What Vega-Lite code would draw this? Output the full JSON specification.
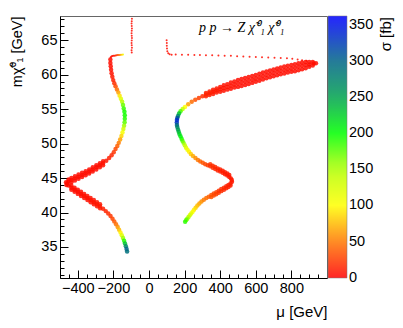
{
"$schema": "https://vega.github.io/schema/vega-lite/v6.json",
"width": 267, "height": 262,
"autosize": {"type": "none"},
"padding": {"left": 60, "top": 16, "right": 76, "bottom": 50},
"background": "white",
"config": {"font": "Liberation Sans", "view": {"stroke": "#666", "strokeWidth": 1},
 "axis": {"labelFont": "Liberation Sans", "titleFont": "Liberation Sans", "labelColor": "black", "titleColor": "black", "domainColor": "black", "tickColor": "black", "grid": false, "labelFontSize": 14.5, "titleFontSize": 15, "titleFontWeight": "normal"}},
"datasets": {
"band": [
{"x":938,"y":61.65,"s":5},{"x":925,"y":61.62,"s":5},{"x":920,"y":61.33,"s":5},{"x":920,"y":61.83,"s":5},
{"x":900,"y":61.13,"s":5},{"x":900,"y":61.48,"s":5},{"x":900,"y":61.83,"s":5},
{"x":880,"y":60.93,"s":5},{"x":880,"y":61.38,"s":5},{"x":880,"y":61.83,"s":5},
{"x":860,"y":60.77,"s":5},{"x":860,"y":61.27,"s":5},{"x":860,"y":61.77,"s":5},
{"x":840,"y":60.64,"s":5},{"x":840,"y":61.14,"s":5},{"x":840,"y":61.64,"s":5},
{"x":820,"y":60.5,"s":5},{"x":820,"y":61.0,"s":5},{"x":820,"y":61.5,"s":5},
{"x":800,"y":60.4,"s":5},{"x":800,"y":60.9,"s":5},{"x":800,"y":61.4,"s":5},
{"x":780,"y":60.29,"s":5},{"x":780,"y":60.79,"s":5},{"x":780,"y":61.29,"s":5},
{"x":760,"y":60.17,"s":5},{"x":760,"y":60.67,"s":5},{"x":760,"y":61.17,"s":5},
{"x":740,"y":60.04,"s":5},{"x":740,"y":60.54,"s":5},{"x":740,"y":61.04,"s":5},
{"x":720,"y":59.9,"s":5},{"x":720,"y":60.4,"s":5},{"x":720,"y":60.9,"s":5},
{"x":700,"y":59.75,"s":5},{"x":700,"y":60.25,"s":5},{"x":700,"y":60.75,"s":5},
{"x":680,"y":59.6,"s":5},{"x":680,"y":60.1,"s":5},{"x":680,"y":60.6,"s":5},
{"x":660,"y":59.46,"s":5},{"x":660,"y":59.96,"s":5},{"x":660,"y":60.46,"s":5},
{"x":640,"y":59.3,"s":5},{"x":640,"y":59.8,"s":5},{"x":640,"y":60.3,"s":5},
{"x":620,"y":59.12,"s":5},{"x":620,"y":59.62,"s":5},{"x":620,"y":60.12,"s":5},
{"x":600,"y":58.95,"s":5},{"x":600,"y":59.45,"s":5},{"x":600,"y":59.95,"s":5},
{"x":580,"y":58.8,"s":5},{"x":580,"y":59.3,"s":5},{"x":580,"y":59.8,"s":5},
{"x":560,"y":58.65,"s":5},{"x":560,"y":59.15,"s":5},{"x":560,"y":59.65,"s":5},
{"x":540,"y":58.5,"s":5},{"x":540,"y":59.0,"s":5},{"x":540,"y":59.5,"s":5},
{"x":520,"y":58.36,"s":5},{"x":520,"y":58.86,"s":5},{"x":520,"y":59.36,"s":5},
{"x":500,"y":58.22,"s":5},{"x":500,"y":58.72,"s":5},{"x":500,"y":59.22,"s":5},
{"x":480,"y":58.12,"s":6},{"x":480,"y":58.57,"s":6},{"x":480,"y":59.02,"s":6},
{"x":460,"y":57.95,"s":6},{"x":460,"y":58.4,"s":6},{"x":460,"y":58.85,"s":6},
{"x":440,"y":57.82,"s":7},{"x":440,"y":58.22,"s":7},{"x":440,"y":58.62,"s":7},
{"x":420,"y":57.65,"s":7},{"x":420,"y":58.05,"s":7},{"x":420,"y":58.45,"s":7},
{"x":400,"y":57.52,"s":8},{"x":400,"y":57.87,"s":8},{"x":400,"y":58.22,"s":8},
{"x":380,"y":57.4,"s":9},{"x":380,"y":57.7,"s":9},{"x":380,"y":58.0,"s":9},
{"x":360,"y":57.2,"s":10},{"x":360,"y":57.5,"s":10},{"x":360,"y":57.8,"s":10},
{"x":340,"y":57.05,"s":12},{"x":340,"y":57.3,"s":12},{"x":340,"y":57.55,"s":12},
{"x":320,"y":56.85,"s":14},{"x":320,"y":57.1,"s":14},{"x":320,"y":57.35,"s":14},
{"x":300,"y":56.85,"s":18},{"x":280,"y":56.6,"s":25},{"x":260,"y":56.35,"s":33},{"x":240,"y":56.05,"s":45},{"x":220,"y":55.7,"s":65},{"x":202,"y":55.3,"s":100},
{"x":189,"y":55.0,"s":140},{"x":177,"y":54.7,"s":180},{"x":169,"y":54.35,"s":230},{"x":163,"y":54.0,"s":270},{"x":159,"y":53.7,"s":310},{"x":157,"y":53.4,"s":335},{"x":156,"y":53.05,"s":330},{"x":157,"y":52.7,"s":300},{"x":159,"y":52.4,"s":275},{"x":163,"y":52.05,"s":255},{"x":167,"y":51.7,"s":240},{"x":171,"y":51.4,"s":225},{"x":177,"y":51.05,"s":210},{"x":183,"y":50.7,"s":195},{"x":188,"y":50.4,"s":180},{"x":194,"y":50.1,"s":165},{"x":201,"y":49.75,"s":145},{"x":208,"y":49.4,"s":125},{"x":216,"y":49.1,"s":110},{"x":225,"y":48.8,"s":95},{"x":235,"y":48.5,"s":82},{"x":247,"y":48.2,"s":70},{"x":261,"y":47.9,"s":58},{"x":275,"y":47.6,"s":50},
{"x":288,"y":47.4,"s":42},{"x":302,"y":47.2,"s":36},{"x":316,"y":47.0,"s":30},{"x":330,"y":46.85,"s":26},{"x":344,"y":46.7,"s":22},{"x":358,"y":46.5,"s":19},{"x":372,"y":46.3,"s":17},{"x":386,"y":46.1,"s":15},{"x":400,"y":45.95,"s":13},{"x":414,"y":45.75,"s":12},{"x":427,"y":45.55,"s":11},{"x":440,"y":45.35,"s":10},{"x":451,"y":45.15,"s":10},{"x":460,"y":44.95,"s":10},{"x":465,"y":44.7,"s":10},
{"x":344,"y":47.0,"s":22},{"x":358,"y":46.8,"s":19},{"x":372,"y":46.6,"s":17},{"x":386,"y":46.4,"s":15},{"x":400,"y":46.25,"s":13},{"x":414,"y":46.05,"s":12},{"x":427,"y":45.85,"s":11},{"x":440,"y":45.65,"s":10},{"x":451,"y":45.45,"s":10},
{"x":466,"y":44.45,"s":10},{"x":458,"y":44.2,"s":11},{"x":446,"y":44.0,"s":12},{"x":434,"y":43.8,"s":14},{"x":421,"y":43.6,"s":16},{"x":406,"y":43.4,"s":19},{"x":392,"y":43.15,"s":22},{"x":378,"y":42.95,"s":26},{"x":364,"y":42.75,"s":30},{"x":350,"y":42.55,"s":34},{"x":336,"y":42.3,"s":39},{"x":322,"y":42.1,"s":44},{"x":308,"y":41.85,"s":50},{"x":295,"y":41.6,"s":57},{"x":283,"y":41.3,"s":65},{"x":272,"y":41.0,"s":73},{"x":262,"y":40.7,"s":82},{"x":253,"y":40.4,"s":92},{"x":245,"y":40.1,"s":103},{"x":237,"y":39.85,"s":115},{"x":229,"y":39.6,"s":128},{"x":222,"y":39.35,"s":142},{"x":215,"y":39.1,"s":158},{"x":209,"y":38.9,"s":172},{"x":203,"y":38.65,"s":188},
{"x":458,"y":43.9,"s":11},{"x":446,"y":43.7,"s":12},{"x":434,"y":43.5,"s":14},{"x":421,"y":43.3,"s":16},{"x":406,"y":43.1,"s":19},{"x":392,"y":42.85,"s":22},{"x":378,"y":42.65,"s":26},{"x":364,"y":42.45,"s":30},{"x":350,"y":42.25,"s":34},
{"x":-217,"y":62.2,"s":5},{"x":-217,"y":61.7,"s":5},{"x":-215,"y":61.2,"s":5},{"x":-213,"y":60.7,"s":6},{"x":-210,"y":60.2,"s":7},{"x":-206,"y":59.7,"s":9},{"x":-201,"y":59.2,"s":12},{"x":-195,"y":58.75,"s":18},{"x":-188,"y":58.3,"s":30},{"x":-180,"y":57.85,"s":45},{"x":-172,"y":57.4,"s":65},{"x":-165,"y":56.95,"s":90},{"x":-158,"y":56.5,"s":120},{"x":-151,"y":56.05,"s":150},{"x":-146,"y":55.6,"s":170},{"x":-142,"y":55.1,"s":185},{"x":-138,"y":54.6,"s":195},{"x":-136,"y":54.1,"s":195},{"x":-136,"y":53.6,"s":190},{"x":-137,"y":53.1,"s":175},{"x":-140,"y":52.6,"s":155},{"x":-144,"y":52.1,"s":130},{"x":-149,"y":51.6,"s":105},{"x":-155,"y":51.1,"s":85},{"x":-162,"y":50.6,"s":65},{"x":-170,"y":50.1,"s":50},{"x":-178,"y":49.65,"s":40},{"x":-188,"y":49.2,"s":30},{"x":-198,"y":48.75,"s":22},{"x":-210,"y":48.3,"s":16},{"x":-224,"y":47.9,"s":12},{"x":-240,"y":47.5,"s":9},{"x":-258,"y":47.15,"s":7},{"x":-276,"y":46.85,"s":6},{"x":-296,"y":46.55,"s":5},{"x":-316,"y":46.25,"s":5},{"x":-336,"y":45.95,"s":5},{"x":-356,"y":45.7,"s":5},{"x":-376,"y":45.45,"s":5},{"x":-396,"y":45.2,"s":5},{"x":-416,"y":44.95,"s":5},{"x":-436,"y":44.7,"s":5},{"x":-452,"y":44.5,"s":5},{"x":-460,"y":44.2,"s":5},{"x":-452,"y":43.9,"s":5},{"x":-436,"y":43.6,"s":5},{"x":-418,"y":43.3,"s":5},{"x":-400,"y":43.0,"s":5},{"x":-382,"y":42.7,"s":5},{"x":-364,"y":42.4,"s":6},{"x":-346,"y":42.1,"s":6},{"x":-328,"y":41.8,"s":7},{"x":-310,"y":41.5,"s":8},{"x":-292,"y":41.2,"s":9},{"x":-275,"y":40.9,"s":10},{"x":-258,"y":40.55,"s":12},{"x":-243,"y":40.2,"s":14},{"x":-229,"y":39.85,"s":17},{"x":-216,"y":39.5,"s":22},{"x":-205,"y":39.1,"s":28},{"x":-195,"y":38.7,"s":36},{"x":-185,"y":38.3,"s":46},{"x":-176,"y":37.9,"s":60},{"x":-168,"y":37.5,"s":75},{"x":-160,"y":37.1,"s":95},{"x":-153,"y":36.7,"s":120},{"x":-146,"y":36.3,"s":155},{"x":-140,"y":35.9,"s":190},{"x":-135,"y":35.5,"s":230},{"x":-130,"y":35.1,"s":270},{"x":-126,"y":34.7,"s":300},{"x":-123,"y":34.35,"s":290},
{"x":-258,"y":47.45,"s":7},{"x":-276,"y":47.15,"s":6},{"x":-296,"y":46.85,"s":5},{"x":-316,"y":46.55,"s":5},{"x":-336,"y":46.25,"s":5},{"x":-356,"y":46.0,"s":5},{"x":-376,"y":45.75,"s":5},{"x":-396,"y":45.5,"s":5},{"x":-416,"y":45.25,"s":5},{"x":-436,"y":45.0,"s":5},{"x":-452,"y":44.8,"s":5},
{"x":-258,"y":46.85,"s":7},{"x":-276,"y":46.55,"s":6},{"x":-296,"y":46.25,"s":5},{"x":-316,"y":45.95,"s":5},{"x":-336,"y":45.65,"s":5},{"x":-356,"y":45.4,"s":5},{"x":-376,"y":45.15,"s":5},{"x":-396,"y":44.9,"s":5},{"x":-416,"y":44.65,"s":5},{"x":-436,"y":44.4,"s":5},
{"x":-466,"y":44.4,"s":5},{"x":-464,"y":44.0,"s":5},
{"x":-436,"y":43.9,"s":5},{"x":-418,"y":43.6,"s":5},{"x":-400,"y":43.3,"s":5},{"x":-382,"y":43.0,"s":5},{"x":-364,"y":42.7,"s":6},{"x":-346,"y":42.4,"s":6},{"x":-328,"y":42.1,"s":7},{"x":-310,"y":41.8,"s":8},{"x":-292,"y":41.5,"s":9},{"x":-275,"y":41.2,"s":10},
{"x":-436,"y":43.3,"s":5},{"x":-418,"y":43.0,"s":5},{"x":-400,"y":42.7,"s":5},{"x":-382,"y":42.4,"s":5},{"x":-364,"y":42.1,"s":6},{"x":-346,"y":41.8,"s":6},{"x":-328,"y":41.5,"s":7},{"x":-310,"y":41.2,"s":8},{"x":-292,"y":40.9,"s":9},{"x":-275,"y":40.6,"s":10}
],
"thin": [
{"x":-97,"y":63.2,"s":5},{"x":-98,"y":63.55,"s":5},{"x":-96,"y":63.9,"s":5},{"x":-97,"y":64.25,"s":5},{"x":-98,"y":64.6,"s":5},{"x":-97,"y":64.95,"s":5},{"x":-96,"y":65.3,"s":5},{"x":-97,"y":65.65,"s":5},{"x":-98,"y":66.0,"s":5},{"x":-97,"y":66.35,"s":5},{"x":-96,"y":66.7,"s":5},{"x":-97,"y":67.05,"s":5},{"x":-98,"y":67.4,"s":5},{"x":-97,"y":67.75,"s":5},{"x":-96,"y":68.1,"s":5},
{"x":-146,"y":62.9,"s":110},{"x":-152,"y":62.88,"s":90},{"x":-158,"y":62.87,"s":75},{"x":-164,"y":62.86,"s":60},{"x":-170,"y":62.85,"s":45},{"x":-176,"y":62.83,"s":35},{"x":-182,"y":62.8,"s":25},{"x":-188,"y":62.78,"s":18},{"x":-194,"y":62.75,"s":12},{"x":-200,"y":62.73,"s":8},{"x":-206,"y":62.7,"s":6},{"x":-211,"y":62.62,"s":5},{"x":-215,"y":62.5,"s":5},
{"x":99,"y":65.0,"s":5},{"x":100,"y":64.6,"s":5},{"x":100,"y":64.2,"s":5},{"x":101,"y":63.8,"s":5},{"x":103,"y":63.4,"s":5},{"x":108,"y":63.1,"s":5},{"x":116,"y":62.95,"s":5},{"x":127,"y":62.88,"s":5},
{"x":150,"y":62.9,"s":5},{"x":185,"y":62.88,"s":5},{"x":220,"y":62.87,"s":5},{"x":255,"y":62.86,"s":5},{"x":286,"y":62.85,"s":5},{"x":320,"y":62.82,"s":5},{"x":355,"y":62.8,"s":5},{"x":390,"y":62.77,"s":5},{"x":425,"y":62.74,"s":5},{"x":460,"y":62.72,"s":5},{"x":495,"y":62.68,"s":5},{"x":530,"y":62.64,"s":5},{"x":565,"y":62.6,"s":5},{"x":600,"y":62.56,"s":5},{"x":635,"y":62.52,"s":5},{"x":670,"y":62.48,"s":5},{"x":705,"y":62.45,"s":5},{"x":740,"y":62.41,"s":5},{"x":775,"y":62.37,"s":5},{"x":805,"y":62.3,"s":5},{"x":835,"y":62.2,"s":5},{"x":860,"y":62.1,"s":5},{"x":885,"y":62.0,"s":5}
]
},
"layer": [
{"data": {"name": "band"},
 "mark": {"type": "point", "filled": true, "shape": "circle", "size": 20, "opacity": 0.85, "strokeWidth": 0},
 "encoding": {
  "x": {"field": "x", "type": "quantitative", "scale": {"domain": [-500, 1000], "nice": false, "zero": false},
   "axis": {"orient": "bottom", "values": [-400, -200, 0, 200, 400, 600, 800], "tickSize": -8, "labelPadding": 11, "title": "μ [GeV]", "titleAnchor": "end", "titlePadding": 10, "labelFlush": false}},
  "y": {"field": "y", "type": "quantitative", "scale": {"domain": [30.5, 68.5], "nice": false, "zero": false},
   "axis": {"orient": "left", "values": [35, 40, 45, 50, 55, 60, 65], "tickSize": -8, "labelPadding": 11, "title": "mχ̃⁰₁ [GeV]", "titleAngle": 270, "titleAlign": "right", "titleBaseline": "bottom", "titleX": -36, "titleY": 0, "titleFontSize": 14.5, "labelFlush": false}},
  "color": {"field": "s", "type": "quantitative",
   "scale": {"domain": [-0.5, 50, 100, 150, 200, 250, 300, 362], "range": ["#ff0000", "#ff7800", "#ffff00", "#b4ff00", "#00ff00", "#00a050", "#006488", "#0000ff"], "interpolate": "rgb"},
   "legend": {"orient": "none", "legendX": 268, "legendY": 0, "direction": "vertical", "gradientLength": 262, "gradientThickness": 19, "values": [0, 50, 100, 150, 200, 250, 300, 350], "labelFontSize": 14.5, "labelFont": "Liberation Sans", "labelColor": "black", "labelOffset": 2, "labelOverlap": false, "title": null, "padding": 0, "gradientStrokeColor": "#666", "gradientStrokeWidth": 0.5, "encode": {"labels": {"update": {"dy": {"value": 2}}}}}}
 }},
{"data": {"name": "thin"},
 "mark": {"type": "point", "filled": true, "shape": "circle", "size": 4, "opacity": 0.85, "strokeWidth": 0},
 "encoding": {
  "x": {"field": "x", "type": "quantitative", "scale": {"domain": [-500, 1000], "nice": false, "zero": false},
   "axis": {"orient": "bottom", "values": [-450, -350, -300, -250, -150, -100, -50, 50, 100, 150, 250, 300, 350, 450, 500, 550, 650, 700, 750, 850, 900, 950], "tickSize": -4, "labels": false, "domain": false, "title": null}},
  "y": {"field": "y", "type": "quantitative", "scale": {"domain": [30.5, 68.5], "nice": false, "zero": false},
   "axis": {"orient": "left", "values": [31, 32, 33, 34, 36, 37, 38, 39, 41, 42, 43, 44, 46, 47, 48, 49, 51, 52, 53, 54, 56, 57, 58, 59, 61, 62, 63, 64, 66, 67, 68], "tickSize": -4, "labels": false, "domain": false, "title": null}},
  "color": {"field": "s", "type": "quantitative", "legend": null}
 }},
{"data": {"values": [{}]},
 "mark": {"type": "text", "text": "p p → Z χ̃⁰₁ χ̃⁰₁", "align": "left", "baseline": "alphabetic", "font": "Liberation Serif", "fontStyle": "italic", "fontSize": 14, "color": "black"},
 "encoding": {"x": {"datum": 281, "type": "quantitative", "axis": null}, "y": {"datum": 66.18, "type": "quantitative", "axis": null}}},
{"data": {"values": [{}]},
 "mark": {"type": "text", "text": "σ [fb]", "angle": 270, "align": "right", "baseline": "top", "font": "Liberation Sans", "fontSize": 15, "color": "black"},
 "encoding": {"x": {"datum": 1292, "type": "quantitative", "axis": null}, "y": {"datum": 68.35, "type": "quantitative", "axis": null}}}
],
"resolve": {"axis": {"x": "independent", "y": "independent"}}
}
